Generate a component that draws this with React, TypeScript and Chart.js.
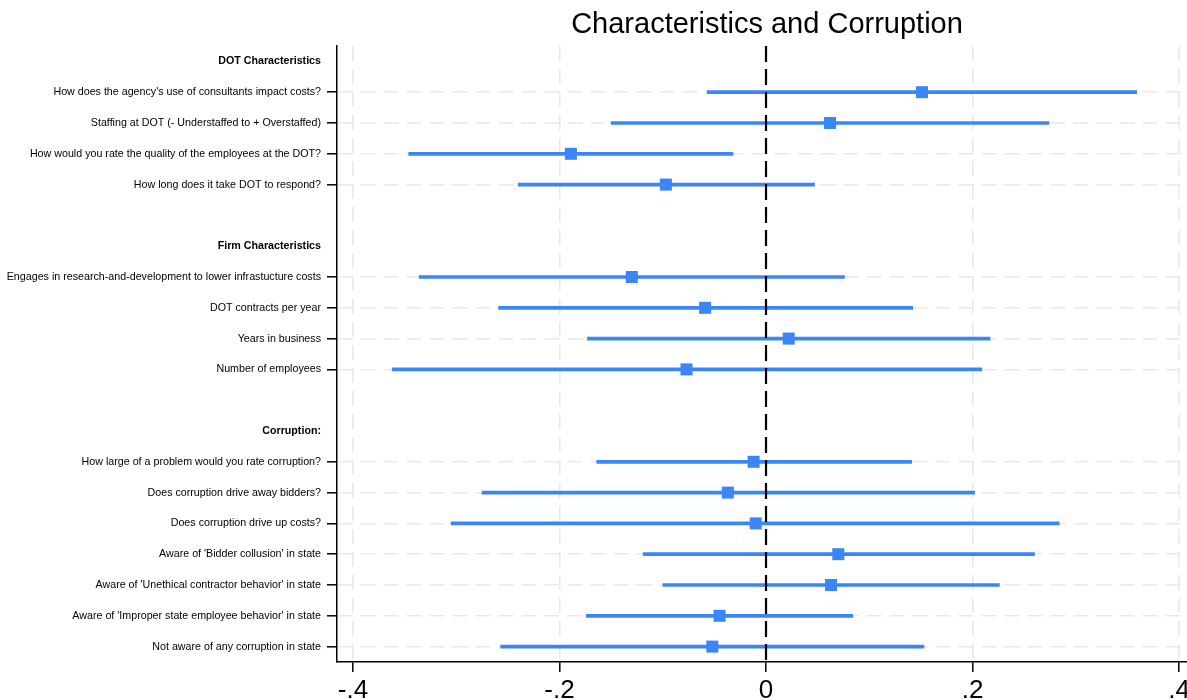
import React, { useEffect, useRef } from "react";
import { Chart, registerables } from "chart.js";

Chart.register(...registerables);

const rowLabels: string[] = [
  "DOT Characteristics",
  "How does the agency's use of consultants impact costs?",
  "Staffing at DOT (- Understaffed to + Overstaffed)",
  "How would you rate the quality of the employees at the DOT?",
  "How long does it take DOT to respond?",
  "",
  "Firm Characteristics",
  "Engages in research-and-development to lower infrastucture costs",
  "DOT contracts per year",
  "Years in business",
  "Number of employees",
  "",
  "Corruption:",
  "How large of a problem would you rate corruption?",
  "Does corruption drive away bidders?",
  "Does corruption drive up costs?",
  "Aware of 'Bidder collusion' in state",
  "Aware of 'Unethical contractor behavior' in state",
  "Aware of 'Improper state employee behavior' in state",
  "Not aware of any corruption in state",
];

const headerRows: number[] = [0, 6, 12];

const coef: (number | null)[] = [
  null, 0.151, 0.062, -0.189, -0.097, null,
  null, -0.130, -0.059, 0.022, -0.077, null,
  null, -0.012, -0.037, -0.010, 0.070, 0.063, -0.045, -0.052,
];
const ciLow: (number | null)[] = [
  null, -0.057, -0.150, -0.346, -0.240, null,
  null, -0.336, -0.259, -0.173, -0.362, null,
  null, -0.164, -0.275, -0.305, -0.119, -0.100, -0.174, -0.257,
];
const ciHigh: (number | null)[] = [
  null, 0.359, 0.274, -0.032, 0.047, null,
  null, 0.076, 0.142, 0.217, 0.209, null,
  null, 0.141, 0.202, 0.284, 0.260, 0.226, 0.084, 0.153,
];

const xTickValues: number[] = [-0.4, -0.2, 0, 0.2, 0.4];
const xTickLabels: string[] = ["-.4", "-.2", "0", ".2", ".4"];

const titleText = "Characteristics and Corruption";

const FONT = "'Liberation Sans', Arial, Helvetica, sans-serif";
const BLUE = "#3b86f7";
const GRID = "#e9e9e9";

const isItem = (i: number) => coef[i] !== null && coef[i] !== undefined;

export default function App() {
  const canvasRef = useRef<HTMLCanvasElement | null>(null);

  useEffect(() => {
    if (!canvasRef.current) return;

    const barData = rowLabels
      .map((_, i) => i)
      .filter((i) => isItem(i))
      .map((i) => ({ y: i, x: [ciLow[i] as number, ciHigh[i] as number] }));
    const pointData = rowLabels
      .map((_, i) => i)
      .filter((i) => isItem(i))
      .map((i) => ({ x: coef[i] as number, y: i }));

    const overlayPlugin = {
      id: "overlayText",
      afterDraw(chart: any) {
        const { ctx, chartArea, scales } = chart;
        ctx.save();
        ctx.fillStyle = "#000";
        ctx.font = `29px ${FONT}`;
        ctx.textAlign = "center";
        ctx.textBaseline = "alphabetic";
        ctx.fillText(titleText, (chartArea.left + chartArea.right) / 2 + 5, 33);
        ctx.font = `26px ${FONT}`;
        xTickValues.forEach((v, k) => {
          const px = scales.x.getPixelForValue(v);
          ctx.fillText(xTickLabels[k], px, 698);
        });
        ctx.restore();
      },
    };

    const chart = new Chart(canvasRef.current, {
      type: "scatter",
      data: {
        datasets: [
          {
            type: "scatter",
            data: [
              { x: 0, y: -0.5 },
              { x: 0, y: 19.5 },
            ],
            showLine: true,
            borderColor: "#000",
            borderWidth: 2.2,
            borderDash: [16, 7],
            pointRadius: 0,
            order: 0,
          } as any,
          {
            type: "scatter",
            data: pointData,
            pointStyle: "rect",
            pointRadius: 8.5,
            backgroundColor: BLUE,
            borderColor: BLUE,
            borderWidth: 0,
            order: 1,
          } as any,
          {
            type: "bar",
            indexAxis: "y",
            data: barData,
            barThickness: 3,
            backgroundColor: BLUE,
            borderWidth: 0,
            borderSkipped: false,
            order: 2,
          } as any,
        ],
      },
      options: {
        responsive: false,
        animation: false,
        events: [],
        layout: { autoPadding: false, padding: { top: 46, left: 0, right: 0, bottom: 0 } },
        plugins: {
          legend: { display: false },
          tooltip: { enabled: false },
          title: { display: false },
        },
        scales: {
          x: {
            type: "linear",
            min: -0.4155,
            max: 0.4077,
            offset: false,
            afterBuildTicks: (scale: any) => {
              scale.ticks = xTickValues.map((v) => ({ value: v }));
            },
            afterFit: (scale: any) => {
              scale.height = 38;
            },
            ticks: { display: false },
            grid: {
              offset: false,
              color: GRID,
              lineWidth: 1.6,
              tickLength: 10,
              tickColor: "#000",
              tickWidth: 1.5,
            },
            border: {
              display: true,
              color: "#000",
              width: 1.5,
              dash: (ctx: any) => (ctx.type === "tick" ? [15, 8] : []),
            },
          } as any,
          y: {
            type: "linear",
            min: -0.5,
            max: 19.5,
            reverse: true,
            offset: false,
            afterBuildTicks: (scale: any) => {
              scale.ticks = rowLabels.map((_, i) => ({ value: i }));
            },
            afterFit: (scale: any) => {
              scale.width = 337;
            },
            ticks: {
              autoSkip: false,
              padding: 6,
              color: "#000",
              callback: (_v: any, index: number) => rowLabels[index],
              font: (ctx: any) => ({
                family: FONT,
                size: 10.7,
                weight: headerRows.includes(ctx.index) ? "bold" : "normal",
              }),
            },
            grid: {
              offset: false,
              color: (ctx: any) => (isItem(ctx.index) ? GRID : "rgba(0,0,0,0)"),
              lineWidth: 1.6,
              tickLength: 10,
              tickColor: (ctx: any) => (isItem(ctx.index) ? "#000" : "rgba(0,0,0,0)"),
              tickWidth: 1.5,
            },
            border: {
              display: true,
              color: "#000",
              width: 1.5,
              dash: (ctx: any) => (ctx.type === "tick" ? [15, 8] : []),
            },
          } as any,
        },
      } as any,
      plugins: [overlayPlugin],
    });

    return () => {
      chart.destroy();
    };
  }, []);

  return (
    <div style={{ position: "absolute", left: 0, top: 0, width: 1187, height: 700, background: "#fff" }}>
      <canvas ref={canvasRef} width={1187} height={700} style={{ width: 1187, height: 700 }} />
    </div>
  );
}
